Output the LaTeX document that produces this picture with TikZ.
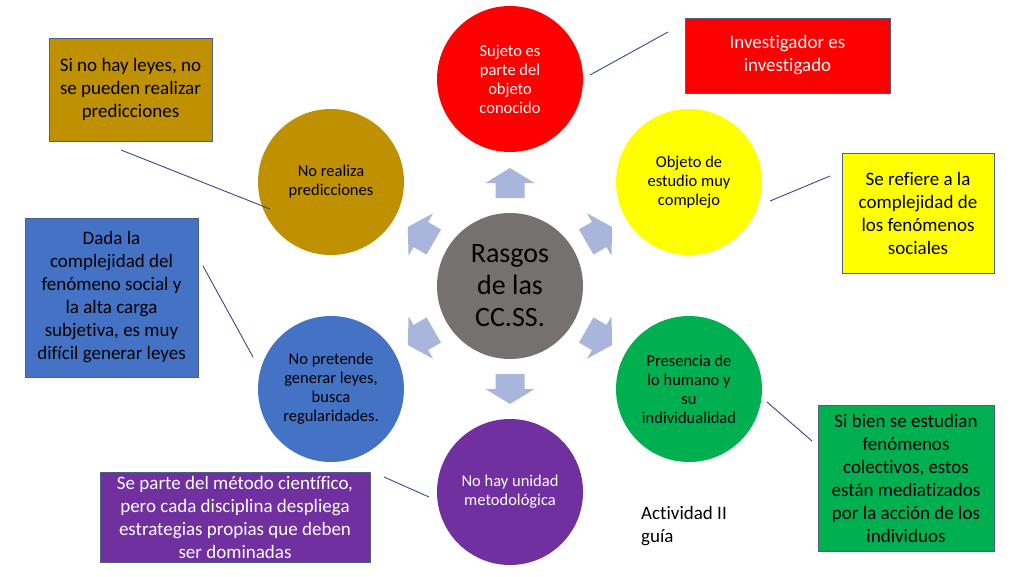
\documentclass[tikz,border=0pt]{standalone}
\usepackage{fontspec}
\setmainfont[RawFeature=-liga]{Carlito}
\definecolor{cred}{HTML}{FF0000}
\definecolor{cyellow}{HTML}{FFFF00}
\definecolor{cgreen}{HTML}{00B050}
\definecolor{cpurple}{HTML}{7030A0}
\definecolor{cblue}{HTML}{4472C4}
\definecolor{cgold}{HTML}{BF9000}
\definecolor{cgray}{HTML}{767171}
\definecolor{arrowc}{HTML}{A9B6DB}
\definecolor{boxline}{HTML}{4F5F82}
\definecolor{linkc}{HTML}{34488A}
\begin{document}
\begin{tikzpicture}[x=1pt,y=-1pt,
  circ/.style={circle, minimum size=146pt, inner sep=0pt, align=center, font=\fontsize{16.5}{19}\selectfont},
  box/.style={rectangle, draw=boxline, line width=0.9pt, align=center, inner sep=0pt, font=\fontsize{19}{23}\selectfont},
  blockarrow/.style={fill=arrowc},
  link/.style={draw=linkc, line width=0.9pt}]
\useasboundingbox (0,0) rectangle (1024,576);
\fill[white] (0,0) rectangle (1024,576);

% block arrows
\foreach \ang in {90,30,150,210,270,330}{
  \begin{scope}[shift={(510,286)}, rotate=\ang]
    \fill[blockarrow] (88,-14.5) -- (103,-14.5) -- (103,-24.5) -- (118,0) -- (103,24.5) -- (103,14.5) -- (88,14.5) -- cycle;
  \end{scope}
}

% circles
\node[circ, fill=cgray, font=\fontsize{28}{32}\selectfont] (center) at (510,286) {Rasgos\\de las\\CC.SS.};
\node[circ, fill=cred, text=white] (red) at (510,79) {Sujeto es\\parte del\\objeto\\conocido};
\node[circ, fill=cyellow] (yellow) at (689,182) {Objeto de\\estudio muy\\complejo};
\node[circ, fill=cgreen] (green) at (689,389) {Presencia de\\lo humano y\\su\\individualidad};
\node[circ, fill=cpurple, text=white] (purple) at (510,492) {No hay unidad\\metodológica};
\node[circ, fill=cblue] (blue) at (331,389) {No pretende\\generar leyes,\\busca\\regularidades.};
\node[circ, fill=cgold] (gold) at (331,182) {No realiza\\predicciones};

% boxes
\node[box, fill=cgold, minimum width=163pt, minimum height=103pt] (goldbox) at (130.5,89.5) {\raisebox{-2pt}{\parbox{160pt}{\centering Si no hay leyes, no\\se pueden realizar\\predicciones}}};
\node[box, fill=cblue, minimum width=173pt, minimum height=159pt] (bluebox) at (111.5,297.5) {\raisebox{-2pt}{\parbox{170pt}{\centering Dada la\\complejidad del\\fenómeno social y\\la alta carga\\subjetiva, es muy\\difícil generar leyes}}};
\node[box, fill=cred, text=white, minimum width=205pt, minimum height=75pt] (redbox) at (787.5,55.5) {\raisebox{-2pt}{\parbox{200pt}{\centering Investigador es\\investigado}}};
\node[box, fill=cyellow, minimum width=152pt, minimum height=120pt] (yellowbox) at (918,213) {\raisebox{-2pt}{\parbox{150pt}{\centering Se refiere a la\\complejidad de\\los fenómenos\\sociales}}};
\node[box, fill=cgreen, minimum width=176pt, minimum height=146pt] (greenbox) at (906,478) {\raisebox{-2pt}{\parbox{174pt}{\centering Si bien se estudian\\fenómenos\\colectivos, estos\\están mediatizados\\por la acción de los\\individuos}}};
\node[box, fill=cpurple, text=white, minimum width=270pt, minimum height=90pt] (purplebox) at (235,517) {\raisebox{-2pt}{\parbox{266pt}{\centering Se parte del método científico,\\pero cada disciplina despliega\\estrategias propias que deben\\ser dominadas}}};

\node[anchor=west, align=left, inner sep=0pt, font=\fontsize{19}{23}\selectfont] (act) at (641,526) {Actividad II\\guía};

% connector end points
\coordinate (g1) at (121,150); \coordinate (g2) at (270,209);
\coordinate (b1) at (203,266); \coordinate (b2) at (253,357);
\coordinate (r1) at (590,75);  \coordinate (r2) at (668,32);
\coordinate (y1) at (770,201); \coordinate (y2) at (830,176);
\coordinate (n1) at (767,402); \coordinate (n2) at (812,441);
\coordinate (p1) at (384,477); \coordinate (p2) at (429,497);
\draw[link] (g1) -- (g2);
\draw[link] (b1) -- (b2);
\draw[link] (r1) -- (r2);
\draw[link] (y1) -- (y2);
\draw[link] (n1) -- (n2);
\draw[link] (p1) -- (p2);
\end{tikzpicture}
\end{document}
